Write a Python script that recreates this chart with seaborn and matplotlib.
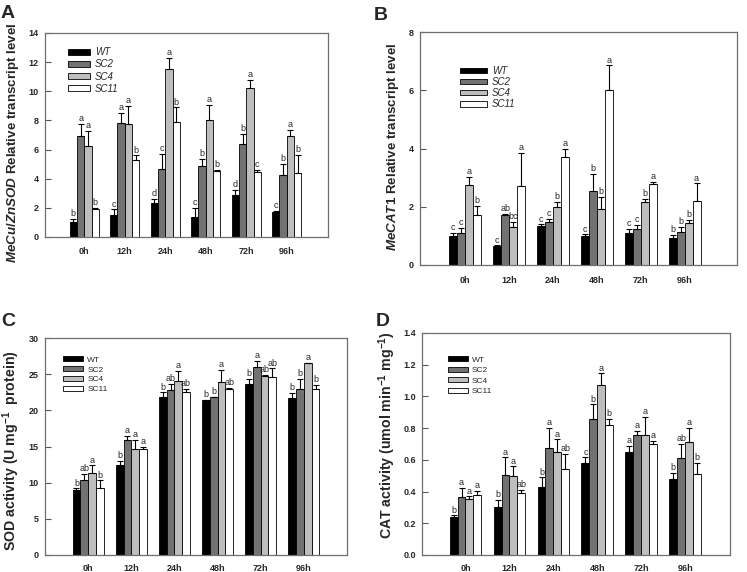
import numpy as np
import pandas as pd
import seaborn as sns
import matplotlib.pyplot as plt
from matplotlib.patches import Patch

# Categories
times = ['0h', '12h', '24h', '48h', '72h', '96h']
lines = ['WT', 'SC2', 'SC4', 'SC11']
colors = ['#000000', '#727272', '#bebebe', '#ffffff']

# A - MeCu/ZnSOD transcript (rows: WT, SC2, SC4, SC11)
sod_gene_mean = [[1.0, 1.5, 2.3, 1.4, 2.85, 1.7],
                 [6.9, 7.8, 4.7, 4.85, 6.4, 4.25],
                 [6.25, 7.75, 11.55, 8.0, 10.2, 6.9],
                 [1.95, 5.3, 7.9, 4.5, 4.45, 4.4]]
sod_gene_err = [[0.25, 0.4, 0.3, 0.6, 0.4, 0.1],
                [0.85, 0.7, 1.0, 0.5, 0.7, 0.75],
                [1.05, 1.25, 0.75, 1.05, 0.6, 0.45],
                [0.05, 0.3, 1.0, 0.1, 0.15, 1.25]]
sod_gene_letters = [['b', 'c', 'd', 'c', 'd', 'c'],
                    ['a', 'a', 'c', 'b', 'b', 'b'],
                    ['a', 'a', 'a', 'a', 'a', 'a'],
                    ['b', 'b', 'b', 'b', 'c', 'b']]

# B - MeCAT1 transcript
cat_gene_mean = [[1.0, 0.65, 1.35, 1.0, 1.1, 0.93],
                 [1.1, 1.7, 1.48, 2.55, 1.25, 1.12],
                 [2.75, 1.3, 2.0, 1.93, 2.18, 1.45],
                 [1.7, 2.72, 3.72, 6.0, 2.78, 2.2]]
cat_gene_err = [[0.1, 0.03, 0.05, 0.05, 0.15, 0.11],
                [0.18, 0.05, 0.1, 0.57, 0.12, 0.2],
                [0.27, 0.17, 0.18, 0.4, 0.1, 0.1],
                [0.33, 1.13, 0.28, 0.85, 0.07, 0.6]]
cat_gene_letters = [['c', 'c', 'c', 'c', 'c', 'b'],
                    ['c', 'ab', 'c', 'b', 'c', 'b'],
                    ['a', 'bc', 'b', 'b', 'b', 'b'],
                    ['b', 'a', 'a', 'a', 'a', 'a']]

# C - SOD activity
sod_act_mean = [[9.0, 12.5, 21.9, 21.4, 23.7, 21.7],
                [10.3, 15.9, 22.8, 21.8, 26.0, 23.0],
                [11.4, 14.6, 24.1, 23.9, 24.8, 26.5],
                [9.2, 14.7, 22.6, 22.9, 24.6, 23.0]]
sod_act_err = [[0.2, 0.5, 0.6, 0.05, 0.7, 0.7],
               [0.9, 0.6, 0.9, 0.1, 0.8, 1.4],
               [1.0, 1.3, 1.4, 1.7, 0.1, 0.1],
               [1.1, 0.3, 0.4, 0.2, 1.2, 0.5]]
sod_act_letters = [['b', 'b', 'b', 'b', 'b', 'b'],
                   ['ab', 'a', 'ab', 'b', 'a', 'b'],
                   ['a', 'a', 'a', 'a', 'ab', 'a'],
                   ['b', 'a', 'ab', 'ab', 'ab', 'b']]

# D - CAT activity
cat_act_mean = [[0.24, 0.30, 0.43, 0.58, 0.65, 0.48],
                [0.365, 0.505, 0.675, 0.855, 0.755, 0.61],
                [0.355, 0.50, 0.65, 1.075, 0.755, 0.71],
                [0.38, 0.39, 0.545, 0.82, 0.70, 0.51]]
cat_act_err = [[0.01, 0.05, 0.06, 0.035, 0.04, 0.04],
               [0.06, 0.11, 0.125, 0.095, 0.03, 0.09],
               [0.015, 0.06, 0.08, 0.07, 0.115, 0.09],
               [0.025, 0.02, 0.095, 0.04, 0.02, 0.07]]
cat_act_letters = [['b', 'b', 'b', 'c', 'a', 'b'],
                   ['a', 'a', 'a', 'b', 'a', 'ab'],
                   ['a', 'a', 'a', 'a', 'a', 'a'],
                   ['a', 'ab', 'ab', 'b', 'a', 'b']]

sns.set_style('white')
plt.rcParams['font.family'] = ['Liberation Sans', 'DejaVu Sans']
plt.rcParams['mathtext.fontset'] = 'custom'
plt.rcParams['mathtext.rm'] = 'Liberation Sans:bold'
plt.rcParams['mathtext.it'] = 'Liberation Sans:italic:bold'
plt.rcParams['mathtext.bf'] = 'Liberation Sans:bold'

W, H = 747, 572
fig = plt.figure(figsize=(W / 100, H / 100), dpi=100)


def px_axes(left, top, right, bottom):
    return fig.add_axes([left / W, 1 - bottom / H, (right - left) / W, (bottom - top) / H])


def draw_panel(ax, mean, err, letters, yticks, yfmt, xlim, leg_xy, leg_size,
               leg_italic, leg_hlen, leg_space, xpad):
    df = pd.DataFrame({'time': np.tile(times, len(lines)),
                       'line': np.repeat(lines, len(times)),
                       'value': np.ravel(mean)})
    sns.barplot(data=df, x='time', y='value', hue='line', order=times,
                hue_order=lines, palette=colors, saturation=1, width=0.72,
                edgecolor='black', linewidth=0.6, errorbar=None, legend=False, ax=ax)

    bar_sets = list(ax.containers)
    for i, cont in enumerate(bar_sets):
        for bar in cont:
            x = bar.get_x() + bar.get_width() / 2
            j = int(round(x))
            y = bar.get_height()
            e = err[i][j]
            ax.errorbar(x, y, yerr=[[0], [e]], fmt='none', ecolor='black',
                        elinewidth=0.8, capsize=2.5, capthick=0.8, zorder=3)
            ax.annotate(letters[i][j], (x, y + e), xytext=(0, 0.5),
                        textcoords='offset points', ha='center', va='bottom',
                        fontsize=6.5)

    ax.set_xlim(*xlim)
    ax.set_ylim(yticks[0], yticks[-1])
    ax.set_yticks(yticks)
    ax.set_yticklabels([yfmt.format(v) for v in yticks])
    ax.set_xlabel('')
    ax.set_ylabel('')
    ax.tick_params(axis='both', direction='in', length=4, width=0.8,
                   color='#555555', labelsize=6.5, left=True, bottom=True)
    ax.tick_params(axis='x', pad=xpad)
    ax.tick_params(axis='y', pad=4.5)
    for lab in ax.get_xticklabels() + ax.get_yticklabels():
        lab.set_fontweight('bold')
    for sp in ax.spines.values():
        sp.set_visible(True)
        sp.set_color('#6f6f6f')
        sp.set_linewidth(0.9)

    handles = [Patch(facecolor=c, edgecolor='black', linewidth=0.6) for c in colors]
    ax.legend(handles, lines, loc='upper left', bbox_to_anchor=leg_xy,
              frameon=False, borderpad=0, borderaxespad=0,
              handlelength=leg_hlen, handleheight=0.5, handletextpad=0.5,
              labelspacing=leg_space,
              prop={'size': leg_size, 'style': 'italic' if leg_italic else 'normal'})


axA = px_axes(45, 33, 328, 237)
draw_panel(axA, sod_gene_mean, sod_gene_err, sod_gene_letters,
           list(range(0, 15, 2)), '{:d}', (-0.97, 6.02), (0.081, 0.93), 7, True, 2.3, 0.22, 7)

axB = px_axes(420, 32, 737, 265)
draw_panel(axB, cat_gene_mean, cat_gene_err, cat_gene_letters,
           list(range(0, 9, 2)), '{:d}', (-1.03, 6.19), (0.126, 0.855), 7, True, 2.8, 0.12, 8)

axC = px_axes(45, 338, 347, 555)
draw_panel(axC, sod_act_mean, sod_act_err, sod_act_letters,
           list(range(0, 31, 5)), '{:d}', (-1.0, 6.0), (0.06, 0.915), 6, False, 2.4, 0.3, 6.5)

axD = px_axes(422, 333, 730, 555)
draw_panel(axD, cat_act_mean, cat_act_err, cat_act_letters,
           [0.0, 0.2, 0.4, 0.6, 0.8, 1.0, 1.2, 1.4], '{:.1f}', (-0.99, 6.02), (0.084, 0.895), 6, False, 2.4, 0.38, 6.5)

# y labels
ylabel_kw = dict(rotation=90, ha='center', va='center', fontweight='bold')
fig.text(13 / W, 1 - 143 / H, r'$\mathit{MeCu/ZnSOD}$ Relative transcript level', fontsize=9.6, **ylabel_kw)
fig.text(393 / W, 1 - 147 / H, r'$\mathit{MeCAT1}$ Relative transcript level', fontsize=9.6, **ylabel_kw)
fig.text(11 / W, 1 - 451 / H, r'SOD activity (U mg$^{-1}$  protein)', fontsize=10.2, **ylabel_kw)
fig.text(387 / W, 1 - 435 / H, r'CAT activity (umol min$^{-1}$ mg$^{-1}$)', fontsize=10.2, **ylabel_kw)

# panel letters
for lab, x, y in [('A', 8, 13), ('B', 381, 15), ('C', 8, 321), ('D', 383, 321)]:
    fig.text(x / W, 1 - y / H, lab, fontsize=14, fontweight='bold', ha='center', va='center')

fig.savefig('out.png', dpi=100)
